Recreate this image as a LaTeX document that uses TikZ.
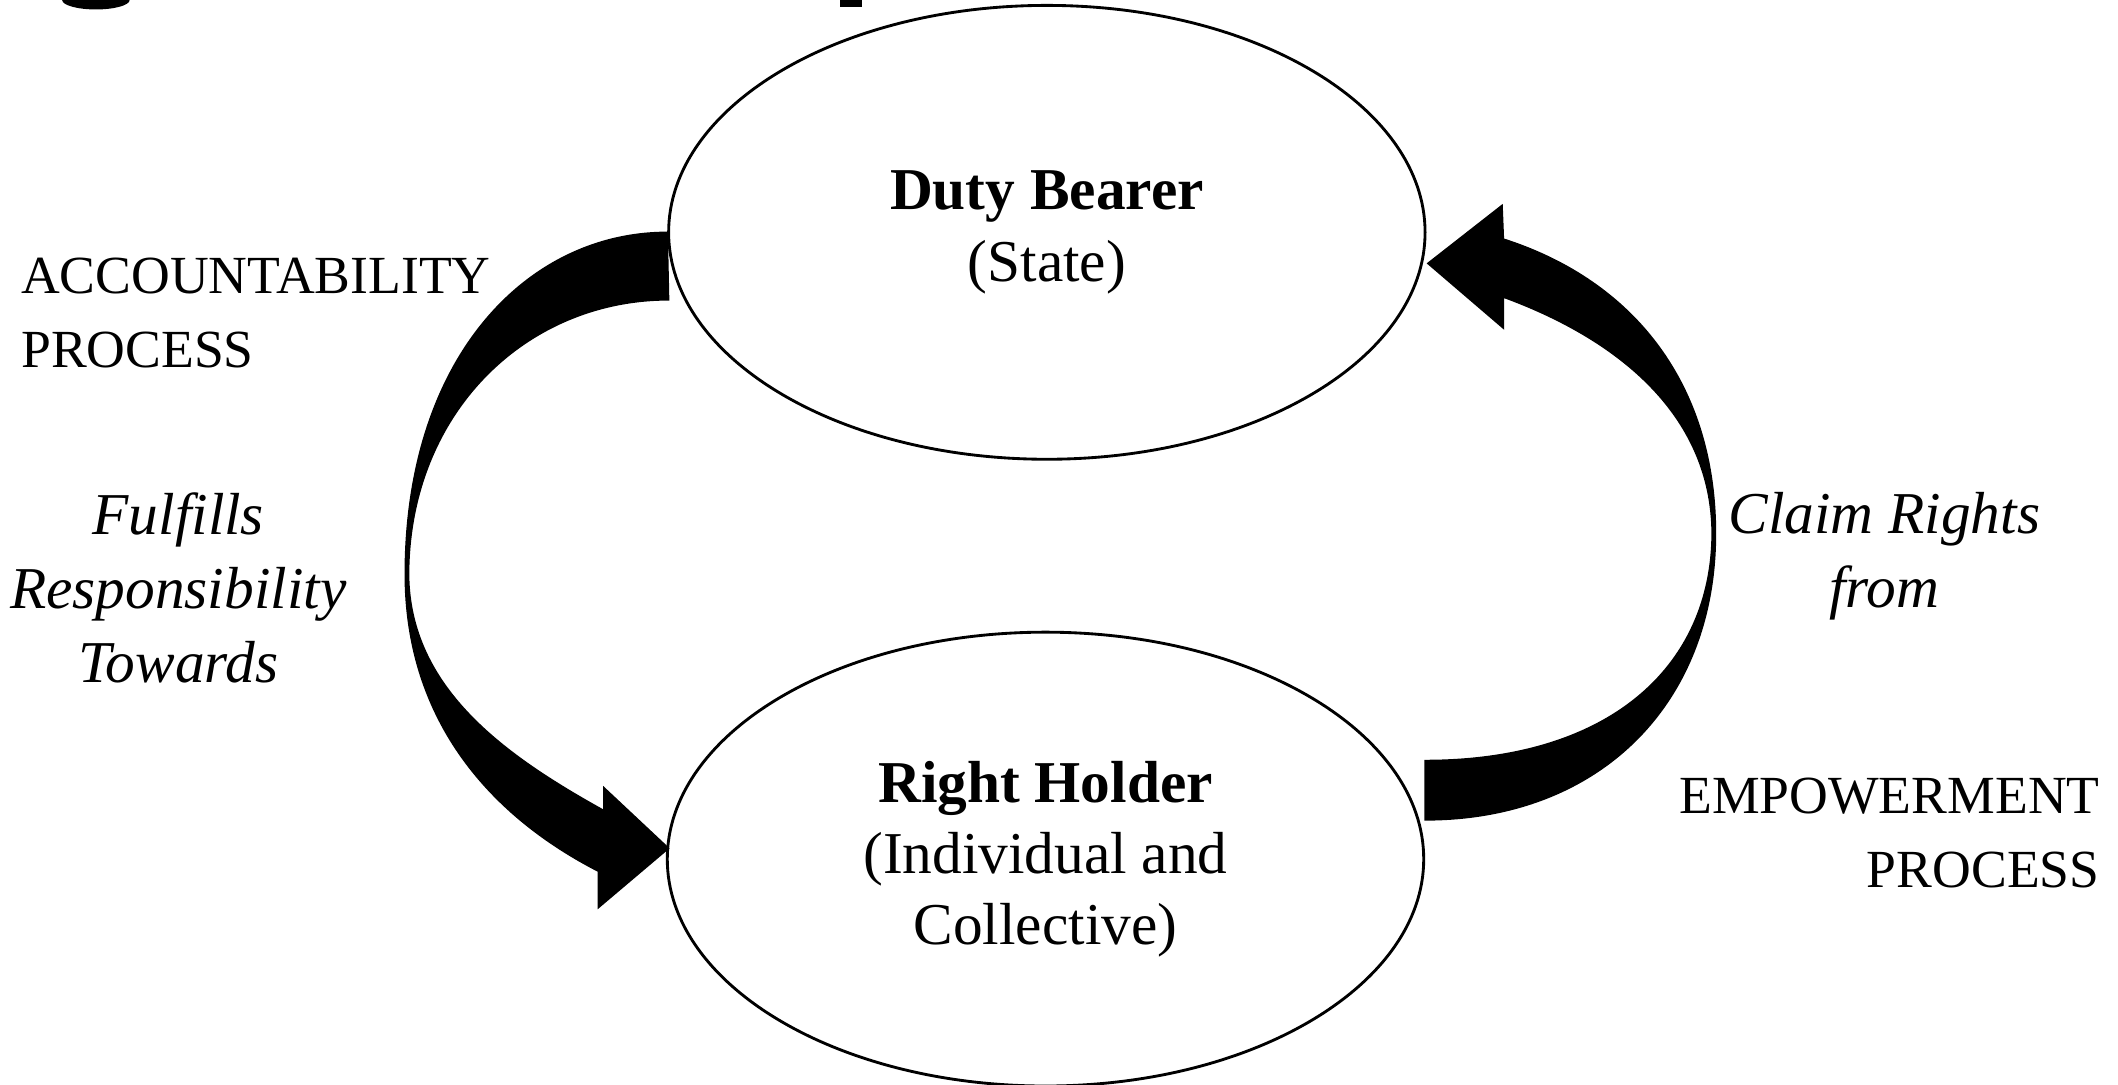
\documentclass[tikz,border=0pt]{standalone}
\usepackage{fontspec}
\setmainfont{Liberation Serif}
\usetikzlibrary{shapes.geometric,calc}

\tikzset{
  party/.style={ellipse, draw, line width=0.6pt, inner sep=0pt,
    minimum width=5.6cm, minimum height=3.36cm, align=center,
    font=\fontsize{12.5}{15}\selectfont},
  procname/.style={font=\fontsize{11.3}{15.6}\selectfont, inner sep=0pt},
  relation/.style={font=\fontsize{12.5}{15.6}\selectfont\itshape, align=center, inner sep=0pt},
  band/.style={fill=black, draw=black, line width=0.3pt, line join=miter}
}

\begin{document}
\begin{tikzpicture}
        \useasboundingbox (0,0) rectangle (15.68,-8.03);
        \fill (0.46,0) arc[start angle=180, end angle=360, x radius=0.25, y radius=0.07] -- cycle;
        \fill (6.22,0) rectangle (6.38,-0.05);
        \node[party] (duty) at (7.75,-1.72) {\textbf{Duty Bearer}\\(State)};
        \node[party] (holder) at (7.74,-6.36) {\textbf{Right Holder}\\(Individual and\\Collective)};
        \node[procname, anchor=west, align=left] (acc) at (0.15,-2.32) {ACCOUNTABILITY\\PROCESS};
        \node[procname, anchor=east, align=right] (emp) at (15.55,-6.17) {EMPOWERMENT\\PROCESS};
        \node[relation] (fulfils) at (1.32,-4.35) {Fulfills\\Responsibility\\Towards};
        \node[relation] (claims) at (13.95,-4.12) {Claim Rights\\from};
        \fill[band] (duty.west) .. controls (3.90,-1.72) and (3.00,-2.65) .. (3.00,-4.25)
            .. controls (3.00,-5.35) and (3.65,-6.05) .. (4.43,-6.45)
            -- (4.43,-6.72) -- (4.95,-6.28) -- (4.47,-5.83) -- (4.47,-6.00)
            .. controls (3.75,-5.60) and (3.03,-5.10) .. (3.025,-4.25)
            .. controls (3.03,-3.05) and (3.90,-2.22) .. (4.95,-2.22) -- cycle;
        \fill[band] (10.55,-6.07) .. controls (11.85,-6.07) and (12.70,-5.20) .. (12.70,-3.95)
            .. controls (12.70,-2.85) and (12.10,-2.08) .. (11.13,-1.77)
            -- (11.12,-1.52) -- (10.57,-1.95) -- (11.13,-2.43) -- (11.13,-2.20)
            .. controls (11.95,-2.50) and (12.67,-3.05) .. (12.675,-3.95)
            .. controls (12.67,-4.95) and (11.90,-5.63) .. (10.55,-5.63) -- cycle;
\end{tikzpicture}
\end{document}
